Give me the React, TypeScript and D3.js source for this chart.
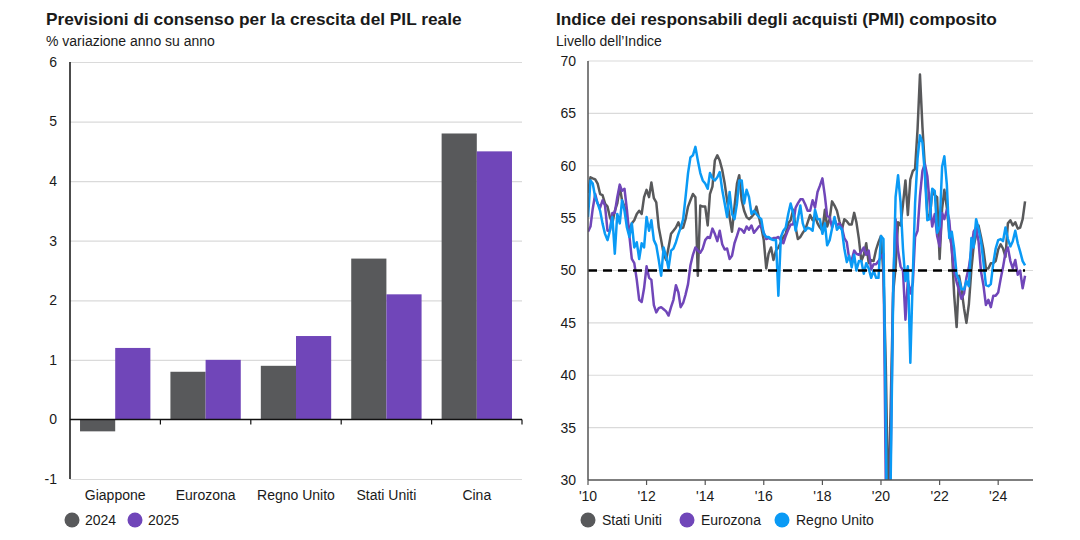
import { useEffect, useRef } from 'react'
import * as d3 from 'd3'

// Consensus GDP growth forecasts, % y/y
const regions = ['Giappone', 'Eurozona', 'Regno Unito', 'Stati Uniti', 'Cina']
const forecastYears = ['2024', '2025']
const growth2024 = [-0.2, 0.8, 0.9, 2.7, 4.8]
const growth2025 = [1.2, 1.0, 1.4, 2.1, 4.5]
const growthTicks = [-1, 0, 1, 2, 3, 4, 5, 6]

// Composite PMI, monthly from Jan 2010 to Dec 2024 (one row per year)
const pmiFirstMonth = new Date(2010, 0, 1)
const pmiUS = [
  57.4, 58.9, 58.8, 58.7, 58.3, 57.3, 57.2, 56.4, 56.1, 55.1, 54.5, 55.7,
  56.4, 58.0, 56.7, 56.1, 54.8, 53.8, 54.5, 54.8, 55.4, 55.7, 55.4, 57.0,
  57.7, 57.0, 58.4, 56.9, 56.5, 54.1, 52.9, 51.6, 51.0, 52.2, 53.5, 53.8,
  54.1, 54.6, 54.0, 54.1, 54.9, 56.1, 56.7, 57.3, 57.0, 49.5, 56.2, 56.1,
  56.1, 54.3, 57.3, 58.0, 60.5, 61.0, 60.5, 59.6, 58.3, 56.7, 55.1, 53.7,
  56.1, 58.3, 59.1, 56.7, 55.7, 55.1, 54.9, 55.1, 55.4, 56.1, 55.1, 54.1,
  52.9, 50.2, 51.6, 52.2, 51.0, 51.9, 52.2, 52.7, 53.2, 53.5, 54.5, 54.8,
  55.8, 54.1, 53.0, 53.2, 53.6, 53.9, 54.6, 55.3, 54.8, 55.2, 54.5, 54.1,
  53.8, 55.8, 54.2, 54.9, 56.6, 56.2, 55.7, 54.7, 53.9, 54.9, 54.7, 54.4,
  54.4, 55.5, 54.6, 53.0, 50.9, 51.5, 52.6, 50.7, 51.0, 50.9, 52.0, 52.7,
  53.3, 49.6, 40.9, 27.0, 37.0, 47.9, 50.3, 54.6, 54.3, 56.3, 58.6, 55.3,
  58.7, 59.5, 59.7, 63.5, 68.7, 63.7, 59.9, 55.4, 55.0, 57.6, 57.2, 57.0,
  51.1, 55.9, 57.7, 56.0, 53.6, 52.3, 47.7, 44.6, 49.5, 48.2, 46.4, 45.0,
  46.8, 50.1, 52.3, 53.4, 54.3, 53.2, 52.0, 50.2, 50.2, 50.7, 50.7, 50.9,
  52.0, 52.5, 52.1, 51.3, 54.5, 54.8, 54.3, 54.6, 54.0, 54.1, 54.9, 56.6,
]
const pmiEZ = [
  53.7, 54.2, 55.9, 57.3, 56.4, 56.0, 56.7, 56.2, 53.8, 53.8, 55.5, 55.5,
  57.0, 58.2, 57.6, 57.8, 55.8, 53.3, 51.1, 50.7, 49.1, 47.2, 47.0, 48.3,
  50.4, 49.3, 49.1, 46.7, 46.0, 46.4, 46.5, 46.3, 46.1, 45.7, 46.5, 47.2,
  48.6, 47.9, 46.5, 46.9, 47.7, 48.7, 50.5, 51.5, 52.2, 51.9, 51.7, 52.1,
  52.9, 53.2, 53.1, 54.0, 53.5, 52.8, 53.8, 52.5, 52.0, 52.1, 51.1, 51.4,
  52.6, 53.3, 54.0, 53.9, 53.6, 54.2, 53.9, 54.3, 53.6, 53.9, 54.2, 54.3,
  53.6, 53.0, 53.1, 53.0, 53.1, 53.1, 53.2, 52.9, 52.6, 53.3, 53.9, 54.4,
  54.4, 56.0, 56.4, 56.8, 56.8, 56.3, 55.7, 55.7, 56.7, 56.0, 57.5, 58.1,
  58.8, 57.1, 55.2, 55.1, 54.1, 54.9, 54.3, 54.5, 54.1, 53.1, 52.7, 51.1,
  51.0, 51.9, 51.6, 51.5, 51.8, 52.2, 51.5, 51.9, 50.1, 50.6, 50.6, 50.9,
  51.3, 51.6, 29.7, 13.6, 31.9, 48.5, 54.9, 51.9, 50.4, 50.0, 45.3, 49.1,
  47.8, 48.8, 53.2, 53.8, 57.1, 59.5, 60.2, 59.0, 56.2, 54.2, 55.4, 53.3,
  52.3, 55.5, 54.9, 55.8, 54.8, 52.0, 49.9, 48.9, 48.1, 47.3, 47.8, 49.3,
  50.3, 52.0, 53.7, 54.1, 52.8, 49.9, 48.6, 46.7, 47.2, 46.5, 47.6, 47.6,
  47.9, 49.2, 50.3, 51.7, 52.2, 50.9, 50.2, 51.0, 49.6, 50.0, 48.3, 49.5,
]
const pmiUK = [
  55.1, 58.6, 58.3, 57.0, 56.4, 55.7, 54.5, 53.5, 52.9, 53.8, 55.1, 51.6,
  55.4, 54.5, 56.7, 55.7, 54.1, 53.2, 54.5, 52.2, 52.7, 51.1, 52.6, 52.2,
  55.1, 53.8, 54.8, 52.9, 52.4, 51.0, 49.5, 52.2, 51.3, 50.2, 51.9, 52.1,
  52.7, 53.5, 54.1, 54.9, 57.0, 59.3, 60.8, 61.0, 61.8, 60.5, 59.3, 58.6,
  58.3, 57.8, 59.3, 58.8, 58.6, 58.9, 59.4, 57.7, 56.4, 55.1, 57.5, 55.4,
  54.9, 56.4, 58.6, 58.6, 56.4, 57.7, 57.0, 55.4, 55.7, 55.4, 55.1, 54.9,
  53.5, 53.2, 53.2, 53.0, 52.9, 52.9, 47.6, 53.2, 53.8, 54.1, 55.4, 56.4,
  55.5, 53.8, 54.9, 56.2, 54.5, 53.8, 54.1, 54.0, 53.8, 55.8, 54.9, 54.9,
  53.5, 54.5, 52.4, 52.9, 54.0, 55.1, 53.9, 54.2, 53.9, 52.1, 50.8, 51.4,
  50.3, 51.5, 50.0, 50.9, 50.9, 49.7, 50.7, 50.2, 49.3, 50.0, 49.3, 49.3,
  53.3, 53.0, 36.0, 13.8, 30.0, 47.7, 57.0, 59.1, 56.5, 52.1, 49.0, 50.4,
  41.2, 49.6, 56.4, 60.7, 62.9, 62.2, 59.2, 54.8, 54.9, 57.8, 57.6, 53.6,
  54.2, 59.9, 60.9, 58.2, 53.1, 53.7, 52.1, 49.6, 49.1, 48.2, 48.2, 49.0,
  48.5, 53.1, 52.2, 54.9, 54.0, 52.8, 50.8, 48.6, 48.5, 48.7, 50.7, 52.1,
  52.9, 53.0, 52.8, 54.1, 53.0, 52.3, 52.8, 53.8, 52.6, 51.8, 50.9, 50.5,
]
const pmiNames = ['Stati Uniti', 'Eurozona', 'Regno Unito']
const pmiTicks = [30, 35, 40, 45, 50, 55, 60, 65, 70]

const FONT = "'Liberation Sans', Arial, sans-serif"
const GREY = '#58595b'
const PURPLE = '#7046b9'
const BLUE = '#0a9af5'
const GRID = '#dadada'
const INK = '#1a1a1a'

function drawGrowth(g) {
  const x = d3.scaleBand().domain(regions).range([70, 522])
  const xs = d3.scaleBand().domain(forecastYears).range([0, x.bandwidth()]).paddingOuter(0.285)
  const y = d3.scaleLinear().domain([-1, 6]).range([479, 62])
  const colors = [GREY, PURPLE]

  g.append('text').attr('x', 46).attr('y', 25)
    .attr('font-size', 17.3).attr('font-weight', 'bold').attr('fill', INK)
    .text('Previsioni di consenso per la crescita del PIL reale')
  g.append('text').attr('x', 46).attr('y', 46)
    .attr('font-size', 14).attr('fill', INK)
    .text('% variazione anno su anno')

  g.selectAll('line.grid')
    .data(growthTicks.filter(t => t !== 0))
    .join('line')
    .attr('x1', 70).attr('x2', 522)
    .attr('y1', d => y(d) + 0.5).attr('y2', d => y(d) + 0.5)
    .attr('stroke', GRID).attr('stroke-width', 1.2)

  g.selectAll('text.tick')
    .data(growthTicks)
    .join('text')
    .attr('x', 57).attr('y', d => y(d)).attr('dy', '0.35em')
    .attr('text-anchor', 'end').attr('font-size', 14).attr('fill', INK)
    .text(d => d)

  const rows = regions.map((r, i) => ({ region: r, values: [growth2024[i], growth2025[i]] }))
  g.selectAll('g.group')
    .data(rows)
    .join('g')
    .attr('transform', d => `translate(${x(d.region)},0)`)
    .selectAll('rect')
    .data(d => d.values.map((v, k) => ({ key: forecastYears[k], v, k })))
    .join('rect')
    .attr('x', d => xs(d.key))
    .attr('width', xs.bandwidth())
    .attr('y', d => y(Math.max(0, d.v)))
    .attr('height', d => Math.abs(y(d.v) - y(0)))
    .attr('fill', d => colors[d.k])

  // zero line and category ticks
  g.append('line').attr('x1', 70).attr('x2', 522)
    .attr('y1', y(0)).attr('y2', y(0)).attr('stroke', '#111').attr('stroke-width', 1.5)
  g.selectAll('line.ctick')
    .data(regions)
    .join('line')
    .attr('x1', d => x(d) + x.bandwidth()).attr('x2', d => x(d) + x.bandwidth())
    .attr('y1', y(0)).attr('y2', y(0) + 5)
    .attr('stroke', '#111').attr('stroke-width', 1.2)

  g.append('line').attr('x1', 70).attr('x2', 70)
    .attr('y1', y(6)).attr('y2', y(-1)).attr('stroke', '#111').attr('stroke-width', 1.5)

  g.selectAll('text.cat')
    .data(regions)
    .join('text')
    .attr('x', d => x(d) + x.bandwidth() / 2).attr('y', 500)
    .attr('text-anchor', 'middle').attr('font-size', 14).attr('fill', INK)
    .text(d => d)

  const legX = [72, 135]
  forecastYears.forEach((yr, i) => {
    g.append('circle').attr('cx', legX[i]).attr('cy', 520).attr('r', 7.5).attr('fill', colors[i])
    g.append('text').attr('x', legX[i] + 13).attr('y', 525)
      .attr('font-size', 14).attr('fill', INK).text(yr)
  })
}

function drawPmi(g) {
  const x = d3.scaleTime().domain([pmiFirstMonth, new Date(2025, 2, 10)]).range([588, 1033])
  const y = d3.scaleLinear().domain([30, 70]).range([480, 61])
  const series = [pmiUS, pmiEZ, pmiUK]
  const colors = [GREY, PURPLE, BLUE]

  g.append('text').attr('x', 556).attr('y', 25)
    .attr('font-size', 17.3).attr('font-weight', 'bold').attr('fill', INK)
    .text('Indice dei responsabili degli acquisti (PMI) composito')
  g.append('text').attr('x', 556).attr('y', 46)
    .attr('font-size', 14).attr('fill', INK)
    .text('Livello dell\u2019Indice')

  g.selectAll('line.grid')
    .data(pmiTicks.filter(t => t > 30))
    .join('line')
    .attr('x1', 588).attr('x2', 1033)
    .attr('y1', d => y(d)).attr('y2', d => y(d))
    .attr('stroke', GRID).attr('stroke-width', 1.2)

  g.selectAll('text.tick')
    .data(pmiTicks)
    .join('text')
    .attr('x', 576).attr('y', d => y(d)).attr('dy', '0.35em')
    .attr('text-anchor', 'end').attr('font-size', 14).attr('fill', INK)
    .text(d => d)

  g.append('clipPath').attr('id', 'pmi-clip')
    .append('rect').attr('x', 588).attr('y', 61).attr('width', 445).attr('height', 419)

  const line = d3.line()
    .x(d => x(d.date))
    .y(d => y(d.value))

  const lastDate = d3.timeMonth.offset(pmiFirstMonth, pmiUS.length - 1)

  series.forEach((values, i) => {
    const pts = values.map((v, m) => ({ date: d3.timeMonth.offset(pmiFirstMonth, m), value: v }))
    g.append('path')
      .datum(pts)
      .attr('clip-path', 'url(#pmi-clip)')
      .attr('d', line)
      .attr('fill', 'none')
      .attr('stroke', colors[i])
      .attr('stroke-width', 2.5)
      .attr('stroke-linejoin', 'round')
  })

  // expansion/contraction threshold
  g.append('line')
    .attr('x1', 588).attr('x2', x(lastDate))
    .attr('y1', y(50)).attr('y2', y(50))
    .attr('stroke', '#000').attr('stroke-width', 2.5).attr('stroke-dasharray', '9,6')

  g.append('line').attr('x1', 588).attr('x2', 1033)
    .attr('y1', y(30)).attr('y2', y(30)).attr('stroke', '#555').attr('stroke-width', 1.5)
  g.append('line').attr('x1', 588).attr('x2', 588)
    .attr('y1', y(70)).attr('y2', y(30)).attr('stroke', '#555').attr('stroke-width', 1.5)

  const years = x.ticks(d3.timeYear.every(2))
  g.selectAll('line.xtick')
    .data(years)
    .join('line')
    .attr('x1', d => x(d)).attr('x2', d => x(d))
    .attr('y1', y(30)).attr('y2', y(30) + 5)
    .attr('stroke', '#555').attr('stroke-width', 1.2)
  g.selectAll('text.xlab')
    .data(years)
    .join('text')
    .attr('x', d => x(d)).attr('y', 501)
    .attr('text-anchor', 'middle').attr('font-size', 14).attr('fill', INK)
    .text(d3.timeFormat("'%y"))

  const legX = [588, 687, 782]
  pmiNames.forEach((name, i) => {
    g.append('circle').attr('cx', legX[i]).attr('cy', 520).attr('r', 7.5).attr('fill', colors[i])
    g.append('text').attr('x', legX[i] + 14).attr('y', 525)
      .attr('font-size', 14).attr('fill', INK).text(name)
  })
}

export default function App() {
  const ref = useRef(null)

  useEffect(() => {
    const svg = d3.select(ref.current)
    svg.selectAll('*').remove()
    svg.attr('font-family', FONT)
    drawGrowth(svg.append('g'))
    drawPmi(svg.append('g'))
  }, [])

  return (
    <svg
      ref={ref}
      width={1080}
      height={540}
      style={{ position: 'absolute', left: 0, top: 0, background: '#fff' }}
    />
  )
}
